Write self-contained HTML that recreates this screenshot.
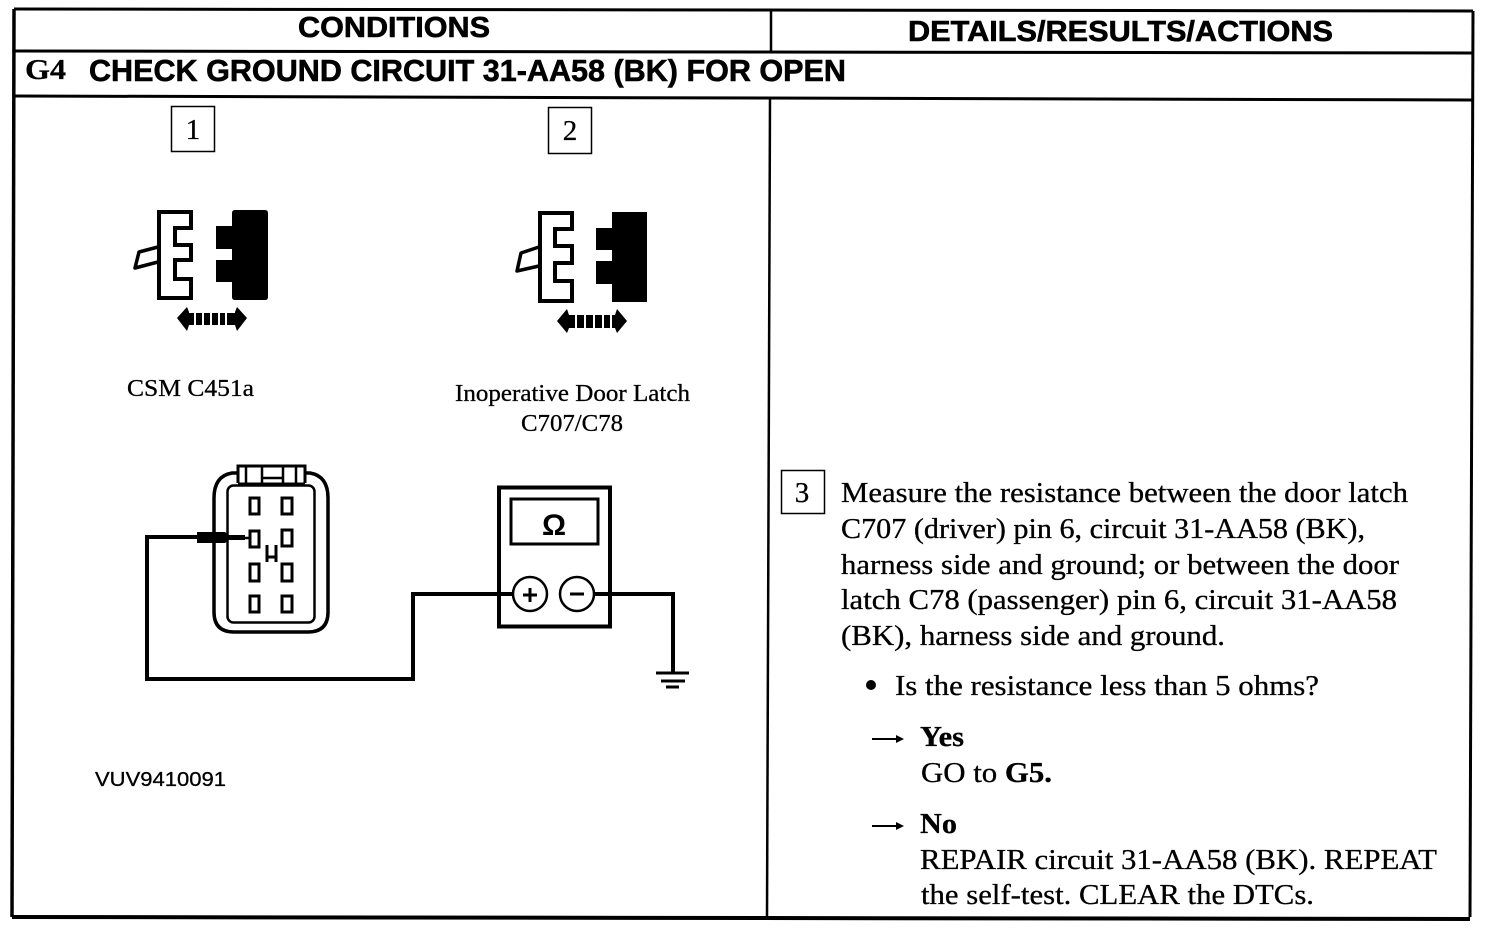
<!DOCTYPE html>
<html><head><meta charset="utf-8"><style>
html,body{margin:0;padding:0;background:#fff}
svg{display:block}
.s{font-family:"Liberation Serif",serif;fill:#000;stroke:#000;stroke-width:.3px}
.h{font-family:"Liberation Sans",sans-serif;font-weight:bold;fill:#000;stroke:#000;stroke-width:.6px}
.b{font-weight:bold}
.o{fill:#fff;stroke:#000}
</style></head><body>
<svg width="1504" height="940" viewBox="0 0 1504 940" xmlns="http://www.w3.org/2000/svg">
<rect width="1504" height="940" fill="#fff"/>
<!-- table -->
<g stroke="#000" fill="none">
<path stroke-width="3" d="M14 9L1473 11"/>
<path stroke-width="3.500" d="M14 9L12 917"/>
<path stroke-width="3" d="M1473 11L1470 917"/>
<path stroke-width="4" d="M12 917L1470 919"/>
<path stroke-width="3" d="M14 51L1473 53"/>
<path stroke-width="3" d="M14 96L1473 100"/>
<path stroke-width="2.500" d="M771 10L771 52"/>
<path stroke-width="2.500" d="M770 99L767 917"/>
</g>
<text class="h" x="298" y="37" font-size="29" textLength="192" lengthAdjust="spacingAndGlyphs">CONDITIONS</text>
<text class="h" x="908" y="41" font-size="29" textLength="425" lengthAdjust="spacingAndGlyphs">DETAILS/RESULTS/ACTIONS</text>
<text class="s b" x="25" y="79" font-size="29" textLength="41" lengthAdjust="spacingAndGlyphs">G4</text>
<text class="h" x="89" y="81" font-size="31" textLength="757" lengthAdjust="spacingAndGlyphs">CHECK GROUND CIRCUIT 31-AA58 (BK) FOR OPEN</text>
<!-- number boxes -->
<g fill="none" stroke="#000" stroke-width="1.500">
<rect x="171.500" y="106.500" width="43" height="45"/>
<rect x="548.500" y="107.500" width="43" height="46"/>
<rect x="781.500" y="470.500" width="43" height="43"/>
</g>
<text class="s" x="193" y="139" font-size="29" text-anchor="middle">1</text>
<text class="s" x="570" y="140" font-size="29" text-anchor="middle">2</text>
<text class="s" x="802" y="502" font-size="29" text-anchor="middle">3</text>
<!-- connector 1 -->
<g>
<path class="o" stroke-width="3.500" stroke-linejoin="round" d="M158 247L139 252L135 268L158 262"/>
<path class="o" stroke-width="4" d="M159 212H191V228H175V245H191V260H175V279H191V298H159Z"/>
<path d="M232 213Q232 210 235 210H265Q268 210 268 213V297Q268 300 265 300H235Q232 300 232 297V282H216V260H232V249H216V226H232Z"/>
<path d="M177 318L187 307L189 312V325L187 331Z M247 318L237 307L235 312V325L237 331Z"/>
<rect x="189" y="313" width="5" height="12"/><rect x="196" y="313" width="6" height="12"/><rect x="204" y="313" width="6" height="12"/><rect x="212" y="313" width="6" height="12"/><rect x="220" y="313" width="5" height="12"/><rect x="227" y="313" width="9" height="12"/>
</g>
<!-- connector 2 -->
<g>
<path class="o" stroke-width="3.500" stroke-linejoin="round" d="M539 247L521 253L517 271L539 266"/>
<path class="o" stroke-width="4" d="M540 213H572V229H555V246H572V263H555V281H572V301H540Z"/>
<path d="M612 212H647V302H612V284H596V261H612V250H596V228H612Z"/>
<path d="M557 321L567 309L569 315V328L567 333Z M627 321L617 309L615 315V328L617 333Z"/>
<rect x="569" y="315" width="6" height="13"/><rect x="577" y="315" width="7" height="13"/><rect x="586" y="315" width="7" height="13"/><rect x="595" y="315" width="7" height="13"/><rect x="604" y="315" width="6" height="13"/><rect x="612" y="315" width="4" height="13"/>
</g>
<text class="s" x="127" y="396" font-size="24" textLength="127" lengthAdjust="spacingAndGlyphs">CSM C451a</text>
<text class="s" x="455" y="401" font-size="24" textLength="235" lengthAdjust="spacingAndGlyphs">Inoperative Door Latch</text>
<text class="s" x="521" y="431" font-size="24" textLength="102" lengthAdjust="spacingAndGlyphs">C707/C78</text>
<text x="95" y="786" font-family="Liberation Sans,sans-serif" font-size="20" textLength="131" lengthAdjust="spacingAndGlyphs" fill="#000" stroke="#000" stroke-width=".3">VUV9410091</text>
<!-- large connector -->
<g fill="none" stroke="#000">
<path stroke-width="3.500" d="M238 473H232Q214 476 214 498V612Q214 632 234 632H308Q328 632 328 612V498Q328 476 310 473H305"/>
<rect x="227.500" y="485.500" width="87" height="137" rx="6" stroke-width="2.500"/>
<path stroke-width="3" d="M238 483V466H305V483"/>
<path stroke-width="2.500" d="M246 467V483M262 467V483M283 467V483M296 467V483M262 478H283"/>
<path stroke-width="3" d="M238 484H305"/>
<g stroke-width="3">
<rect x="250" y="498" width="9" height="16"/><rect x="282" y="498" width="10" height="16"/>
<rect x="250" y="531" width="9" height="16"/><rect x="282" y="530" width="10" height="16"/>
<rect x="250" y="564" width="9" height="17"/><rect x="282" y="564" width="10" height="17"/>
<rect x="250" y="596" width="9" height="16"/><rect x="282" y="596" width="10" height="16"/>
</g>
<path stroke-width="3" d="M267 545V562M276 545V562M267 557H276"/>
<path stroke-width="4" d="M197 537H147V679H413V594H513"/>
<path stroke-width="2.500" d="M225 538H249"/>
</g>
<path d="M197 532H225L229 535H245V540H229L225 543H197Z"/>
<!-- meter -->
<g fill="none" stroke="#000">
<rect x="499" y="487.500" width="111" height="139" stroke-width="4"/>
<rect x="511" y="499" width="87" height="45" stroke-width="3"/>
<path stroke-width="4" d="M595 594H673V672"/>
<path stroke-width="3" d="M656 673H689"/>
<path stroke-width="3" d="M661 681H685"/>
<path stroke-width="3" d="M666 687H679"/>
<circle cx="530" cy="594" r="17" fill="#fff" stroke-width="2.500"/>
<circle cx="577" cy="594" r="17" fill="#fff" stroke-width="2.500"/>
<path stroke-width="3" d="M523 595H537M530 588V602M570 594H584"/>
</g>
<text x="554" y="535" font-family="Liberation Sans,sans-serif" font-weight="bold" font-size="30" text-anchor="middle" fill="#000">Ω</text>
<!-- right text -->
<g class="s" font-size="28">
<text x="841" y="502" textLength="567" lengthAdjust="spacingAndGlyphs">Measure the resistance between the door latch</text>
<text x="841" y="538" textLength="524" lengthAdjust="spacingAndGlyphs">C707 (driver) pin 6, circuit 31-AA58 (BK),</text>
<text x="841" y="574" textLength="558" lengthAdjust="spacingAndGlyphs">harness side and ground; or between the door</text>
<text x="841" y="609" textLength="556" lengthAdjust="spacingAndGlyphs">latch C78 (passenger) pin 6, circuit 31-AA58</text>
<text x="841" y="645" textLength="384" lengthAdjust="spacingAndGlyphs">(BK), harness side and ground.</text>
<text x="895" y="695" textLength="424" lengthAdjust="spacingAndGlyphs">Is the resistance less than 5 ohms?</text>
<text class="b" x="920" y="746" textLength="44" lengthAdjust="spacingAndGlyphs">Yes</text>
<text x="921" y="782" textLength="131" lengthAdjust="spacingAndGlyphs">GO to <tspan class="b">G5.</tspan></text>
<text class="b" x="920" y="833" textLength="37" lengthAdjust="spacingAndGlyphs">No</text>
<text x="920" y="869" textLength="517" lengthAdjust="spacingAndGlyphs">REPAIR circuit 31-AA58 (BK). REPEAT</text>
<text x="921" y="904" textLength="393" lengthAdjust="spacingAndGlyphs">the self-test. CLEAR the DTCs.</text>
</g>
<circle cx="871" cy="685" r="5"/>
<g stroke="#000" stroke-width="2" fill="#000">
<path d="M872 739H898"/><path stroke="none" d="M904 739L896 735V743Z"/>
<path d="M872 826H898"/><path stroke="none" d="M904 826L896 822V830Z"/>
</g>
</svg>
</body></html>
